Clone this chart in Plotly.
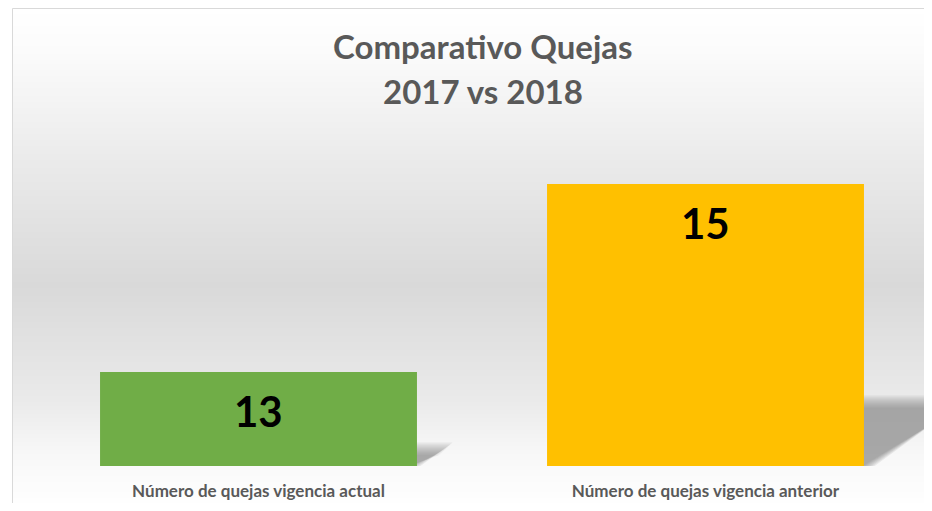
import plotly.graph_objects as go

categories = ["Número de quejas vigencia actual", "Número de quejas vigencia anterior"]
values = [13, 15]
bar_colors = ["#70AD47", "#FFC000"]
title_lines = ["Comparativo Quejas", "2017 vs 2018"]

OFF = 8  # page body margin in the browser
W, H = 932 - 2 * OFF, 511 - 2 * OFF
L, T = 35 - OFF, 137 - OFF
R = 0
B = H - (466 - OFF)
PW, PH = W - L - R, H - T - B
CAT_PX = 447  # pixels per category slot in the reference
X_RANGE = [-0.5, -0.5 + PW / CAT_PX]
Y_RANGE = [12, 15.5]
BARGAP = 0.291
FONT = "Lato"


def px_x(px):  # reference-page pixel -> paper
    return (px - OFF - L) / PW


def px_y(py):
    return (H - B - (py - OFF)) / PH


shapes = []
stops = [(0, (255, 255, 255)), (10, (255, 255, 255)), (60, (250, 250, 250)),
         (150, (236, 236, 236)), (285, (217, 217, 217)), (400, (234, 234, 234)),
         (455, (248, 248, 248)), (511, (255, 255, 255))]


def grad(py):
    for (y0, c0), (y1, c1) in zip(stops[:-1], stops[1:]):
        if y0 <= py <= y1:
            t = (py - y0) / (y1 - y0) if y1 > y0 else 0
            return tuple(round(a + (b - a) * t) for a, b in zip(c0, c1))
    return stops[-1][1]


step = 2
for py in range(8, 511 + 2, step):
    c = grad(py + step / 2)
    shapes.append(dict(type="rect", xref="paper", yref="paper", layer="below",
                       x0=px_x(12), x1=px_x(952), y0=px_y(py + step), y1=px_y(py),
                       line=dict(width=0), fillcolor="rgb(%d,%d,%d)" % c))
shapes.append(dict(type="rect", xref="paper", yref="paper", layer="below",
                   x0=px_x(12.5), x1=px_x(960), y0=px_y(530), y1=px_y(8.5),
                   line=dict(color="#d9d9d9", width=1), fillcolor="rgba(0,0,0,0)"))

# soft perspective shadows derived from the bar values
ux = PW / (X_RANGE[1] - X_RANGE[0])
uy = PH / (Y_RANGE[1] - Y_RANGE[0])
half = (1 - BARGAP) / 2
for i, v in enumerate(values):
    hpx = (v - Y_RANGE[0]) * uy
    dx = 0.38 * hpx / ux
    dy = 0.25 * hpx / uy
    xl, xr = i - half, i + half
    base = Y_RANGE[0]
    for k in range(7):
        inset = k * 2.0
        ix = inset / ux
        iy = inset / uy
        path = "M %f,%f L %f,%f L %f,%f L %f,%f Z" % (
            xl + ix, base, xr - ix + dx * 0.1, base,
            xr + dx - ix, base + dy - iy, xl + dx + ix, base + dy - iy)
        shapes.append(dict(type="path", xref="x", yref="y", layer="below", path=path,
                           line=dict(width=0), fillcolor="rgba(110,110,110,0.11)"))

annotations = []
for line, cy in zip(title_lines, [46, 91]):
    annotations.append(dict(text=line, xref="paper", yref="paper", x=px_x(483), y=px_y(cy),
                            xanchor="center", yanchor="middle", showarrow=False,
                            font=dict(family=FONT, size=33, color="#595959", weight="bold")))
for i, v in enumerate(values):
    annotations.append(dict(text=str(v), x=categories[i], y=v, xref="x", yref="y",
                            xanchor="center", yanchor="top", yshift=-12, showarrow=False,
                            font=dict(family=FONT, size=42, color="#000000", weight="bold")))

fig = go.Figure(go.Bar(x=categories, y=values, marker=dict(color=bar_colors, line=dict(width=0)),
                       hoverinfo="skip", cliponaxis=True))
fig.update_layout(
    width=W, height=H, margin=dict(l=L, r=R, t=T, b=B, autoexpand=False),
    paper_bgcolor="white", plot_bgcolor="rgba(0,0,0,0)",
    bargap=BARGAP, showlegend=False, shapes=shapes, annotations=annotations,
    xaxis=dict(range=X_RANGE, showgrid=False, zeroline=False, showline=False, ticks="",
               ticklabelstandoff=13,
               tickfont=dict(family=FONT, size=17, color="#595959", weight="bold")),
    yaxis=dict(range=Y_RANGE, visible=False, showgrid=False, zeroline=False),
)
fig.write_html("out.html")
